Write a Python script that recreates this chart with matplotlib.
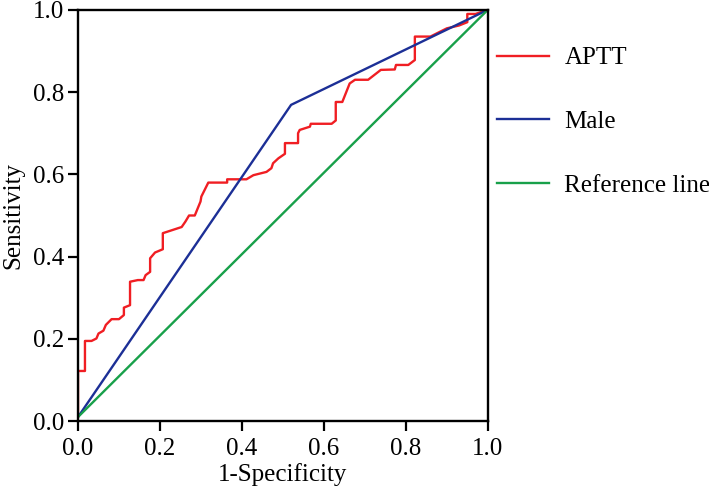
import matplotlib.pyplot as plt

plt.rcParams['font.family'] = ['Liberation Serif', 'DejaVu Serif']

# ROC curve points
aptt_fpr = [0.0, 0.0, 0.017, 0.017, 0.033, 0.045, 0.05, 0.062, 0.068, 0.082, 0.1, 0.112, 0.112,
            0.127, 0.127, 0.146, 0.16, 0.165, 0.176, 0.176, 0.188, 0.207, 0.207, 0.253, 0.262,
            0.271, 0.285, 0.299, 0.301, 0.318, 0.364, 0.364, 0.411, 0.428, 0.46, 0.472, 0.476,
            0.489, 0.505, 0.505, 0.537, 0.537, 0.541, 0.566, 0.568, 0.619, 0.629, 0.629, 0.645,
            0.663, 0.676, 0.708, 0.739, 0.773, 0.776, 0.806, 0.822, 0.822, 0.86, 0.88, 0.9,
            0.93, 0.95, 0.95, 0.97, 1.0]
aptt_tpr = [0.01, 0.122, 0.122, 0.195, 0.195, 0.201, 0.213, 0.22, 0.234, 0.248, 0.248, 0.258, 0.276,
            0.282, 0.339, 0.343, 0.343, 0.355, 0.363, 0.396, 0.41, 0.418, 0.457, 0.472, 0.485,
            0.5, 0.5, 0.534, 0.546, 0.58, 0.58, 0.588, 0.588, 0.598, 0.606, 0.615, 0.627,
            0.639, 0.65, 0.676, 0.676, 0.7, 0.708, 0.716, 0.723, 0.723, 0.731, 0.776, 0.776,
            0.821, 0.83, 0.83, 0.854, 0.855, 0.866, 0.866, 0.878, 0.935, 0.935, 0.945, 0.955,
            0.962, 0.97, 0.99, 0.99, 1.0]
male_fpr = [0.0, 0.52, 1.0]
male_tpr = [0.01, 0.769, 1.0]
ref_fpr = [0.0, 1.0]
ref_tpr = [0.01, 1.0]

fig = plt.figure(figsize=(7.09, 4.92), dpi=100)
ax = fig.add_axes([0.110, 0.144, 0.578, 0.836])

ax.plot(aptt_fpr, aptt_tpr, color='#f01e23', lw=1.7, label='APTT')
ax.plot(male_fpr, male_tpr, color='#1c2f96', lw=1.7, label='Male')
ax.plot(ref_fpr, ref_tpr, color='#18a04a', lw=1.7, label='Reference line')

ax.set_xlim(0, 1)
ax.set_ylim(0, 1)
ticks = [0.0, 0.2, 0.4, 0.6, 0.8, 1.0]
ax.set_xticks(ticks)
ax.set_yticks(ticks)
ax.set_xticklabels([f'{t:.1f}' for t in ticks])
ax.set_yticklabels([f'{t:.1f}' for t in ticks])
ax.tick_params(direction='out', length=7, width=1.6, labelsize=18, color='black', pad=3)
ax.tick_params(axis='x', pad=5)
for s in ax.spines.values():
    s.set_linewidth(1.7)
    s.set_color('black')

ax.set_xlabel('1-Specificity', fontsize=18, labelpad=2)
ax.set_ylabel('Sensitivity', fontsize=18, labelpad=6)

ax.legend(loc='upper left', bbox_to_anchor=(1.022, 0.91), frameon=False, fontsize=18,
          handlelength=2.1, handletextpad=0.6, labelspacing=1.65, borderaxespad=0,
          borderpad=0)

fig.savefig('out.png', dpi=100)
